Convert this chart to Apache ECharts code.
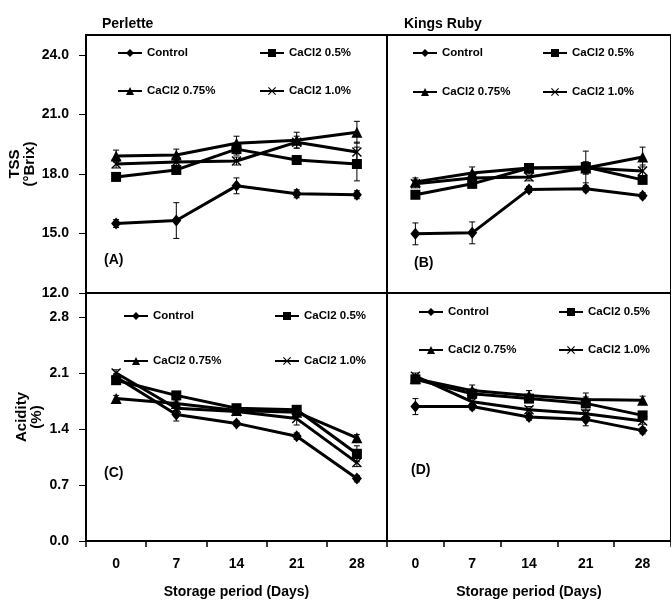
<!DOCTYPE html>
<html>
<head>
<meta charset="utf-8">
<script src="https://cdn.jsdelivr.net/npm/echarts@6/dist/echarts.min.js"></script>
<style>
  html, body { margin: 0; padding: 0; background: #fff; }
  #chart { width: 671px; height: 601px; }
</style>
</head>
<body>
<div id="chart"></div>
<script>
  // storage days (categories) and treatments
  const days = ['0', '7', '14', '21', '28'];
  const treatments = ['Control', 'CaCl2 0.5%', 'CaCl2 0.75%', 'CaCl2 1.0%'];

  // TSS (°Brix), Perlette - panel A
  const tssPerlette = [
    [15.5, 15.65, 17.4, 17.0, 16.95],
    [17.85, 18.2, 19.25, 18.7, 18.5],
    [18.9, 18.95, 19.55, 19.7, 20.1],
    [18.5, 18.6, 18.65, 19.6, 19.1]
  ];
  const tssPerletteErr = [
    [0.2, 0.9, 0.4, 0.2, 0.2],
    [0.2, 0.2, 0.3, 0.2, 0.85],
    [0.3, 0.3, 0.35, 0.4, 0.55],
    [0.2, 0.2, 0.2, 0.3, 0.5]
  ];

  // TSS (°Brix), Kings Ruby - panel B
  const tssKings = [
    [14.98, 15.03, 17.22, 17.25, 16.9],
    [16.95, 17.5, 18.3, 18.35, 17.7],
    [17.6, 18.05, 18.3, 18.3, 18.85],
    [17.5, 17.8, 17.85, 18.3, 18.15]
  ];
  const tssKingsErr = [
    [0.55, 0.55, 0.15, 0.15, 0.15],
    [0.15, 0.2, 0.2, 0.8, 0.2],
    [0.2, 0.3, 0.2, 0.3, 0.5],
    [0.2, 0.2, 0.2, 0.3, 0.3]
  ];

  // Acidity (%), Perlette - panel C
  const acidPerlette = [
    [2.05, 1.58, 1.47, 1.31, 0.78],
    [2.01, 1.82, 1.66, 1.64, 1.09],
    [1.78, 1.72, 1.63, 1.61, 1.29],
    [2.1, 1.66, 1.62, 1.53, 0.98]
  ];
  const acidPerletteErr = [
    [0.04, 0.08, 0.03, 0.04, 0.04],
    [0.05, 0.04, 0.04, 0.04, 0.1],
    [0.04, 0.03, 0.03, 0.03, 0.04],
    [0.04, 0.03, 0.03, 0.08, 0.05]
  ];

  // Acidity (%), Kings Ruby - panel D
  const acidKings = [
    [1.68, 1.68, 1.55, 1.52, 1.38],
    [2.02, 1.84, 1.78, 1.72, 1.57],
    [2.03, 1.88, 1.82, 1.77, 1.76],
    [2.06, 1.74, 1.64, 1.59, 1.5]
  ];
  const acidKingsErr = [
    [0.1, 0.04, 0.04, 0.08, 0.04],
    [0.05, 0.06, 0.05, 0.08, 0.04],
    [0.04, 0.07, 0.06, 0.08, 0.05],
    [0.04, 0.04, 0.04, 0.04, 0.04]
  ];

  const FONT = "'Liberation Sans Narrow', 'Liberation Sans', Arial, sans-serif";
  const crossPath = 'path://M0,1 L1,0 L5,4 L9,0 L10,1 L6,5 L10,9 L9,10 L5,6 L1,10 L0,9 L4,5 Z';
  const symbols = ['diamond', 'rect', 'triangle', crossPath];
  const symbolSizes = [[10, 12], 10, 11, 10];

  let chart = echarts.init(document.getElementById('chart'));

  // error bar: vertical line with small caps
  function errRender(params, api) {
    let top = api.coord([api.value(0), api.value(2)]);
    let bot = api.coord([api.value(0), api.value(1)]);
    let w = 3;
    let style = { stroke: '#000', lineWidth: 1 };
    return {
      type: 'group',
      children: [
        { type: 'line', shape: { x1: top[0], y1: top[1], x2: bot[0], y2: bot[1] }, style: style },
        { type: 'line', shape: { x1: top[0] - w, y1: top[1], x2: top[0] + w, y2: top[1] }, style: style },
        { type: 'line', shape: { x1: bot[0] - w, y1: bot[1], x2: bot[0] + w, y2: bot[1] }, style: style }
      ]
    };
  }

  function panelSeries(idx, means, errs) {
    let out = [];
    means.forEach(function (m, k) {
      out.push({
        type: 'custom',
        name: 'err',
        xAxisIndex: idx,
        yAxisIndex: idx,
        z: 1,
        silent: true,
        renderItem: errRender,
        encode: { x: 0, y: [1, 2] },
        data: m.map(function (v, i) { return [i, v - errs[k][i], v + errs[k][i]]; })
      });
      out.push({
        type: 'line',
        name: treatments[k],
        xAxisIndex: idx,
        yAxisIndex: idx,
        z: 3,
        data: m,
        symbol: symbols[k],
        symbolSize: symbolSizes[k],
        lineStyle: { color: '#000', width: 3 },
        itemStyle: { color: '#000' }
      });
    });
    return out;
  }

  // legend boxes: [col1 x, col2 x, row1 y, row2 y] per panel
  const legendPos = [
    [117, 259, 54, 92],
    [412, 542, 54, 93],
    [123, 274, 317, 362],
    [418, 558, 313, 351]
  ];
  let legends = [];
  legendPos.forEach(function (p) {
    treatments.forEach(function (t, k) {
      legends.push({
        data: [t],
        left: k % 2 === 0 ? p[0] : p[1],
        top: (k < 2 ? p[2] : p[3]) - 7,
        padding: 0,
        itemWidth: 24,
        itemHeight: 10,
        selectedMode: false,
        textStyle: { fontFamily: FONT, fontWeight: 'bold', fontSize: 11.5, color: '#000' }
      });
    });
  });

  const txt = { fontFamily: FONT, fontWeight: 'bold', fontSize: 14, color: '#000' };

  function xAxis(idx, showLabels) {
    return {
      type: 'category',
      gridIndex: idx,
      data: days,
      boundaryGap: true,
      axisLine: { lineStyle: { color: '#000', width: 2 } },
      axisTick: { show: showLabels, length: 6, lineStyle: { color: '#000', width: 1.5 } },
      axisLabel: { show: showLabels, margin: 16, fontFamily: FONT, fontWeight: 'bold', fontSize: 14, color: '#000' },
      name: showLabels ? 'Storage period (Days)' : '',
      nameLocation: 'middle',
      nameGap: 44,
      nameTextStyle: txt
    };
  }

  function yAxis(idx, min, max, interval, showLabels, name) {
    return {
      type: 'value',
      gridIndex: idx,
      min: min,
      max: max,
      interval: interval,
      splitLine: { show: false },
      axisLine: { show: true, lineStyle: { color: '#000', width: 2 } },
      axisTick: { show: showLabels, length: 7, lineStyle: { color: '#000', width: 1 } },
      axisLabel: {
        show: showLabels,
        showMaxLabel: false,
        margin: 17,
        fontFamily: FONT, fontWeight: 'bold', fontSize: 14, color: '#000',
        formatter: function (v) { return v.toFixed(1); }
      },
      name: name,
      nameLocation: 'middle',
      nameRotate: 90,
      nameGap: 42,
      nameTextStyle: { fontFamily: FONT, fontWeight: 'bold', fontSize: 15, color: '#000', lineHeight: 15 }
    };
  }

  const gridStyle = { show: true, borderColor: '#000', borderWidth: 2, containLabel: false };

  let option = {
    animation: false,
    backgroundColor: '#fff',
    title: [
      { text: 'Perlette', left: 97, top: 12, textStyle: txt },
      { text: 'Kings Ruby', left: 399, top: 12, textStyle: txt },
      { text: '(A)', left: 99, top: 248, textStyle: txt },
      { text: '(B)', left: 409, top: 251, textStyle: txt },
      { text: '(C)', left: 99, top: 461, textStyle: txt },
      { text: '(D)', left: 406, top: 458, textStyle: txt }
    ],
    legend: legends,
    grid: [
      Object.assign({ left: 86, top: 35, width: 301, height: 258 }, gridStyle),
      Object.assign({ left: 387, top: 35, width: 292.5, height: 258 }, gridStyle),
      Object.assign({ left: 86, top: 293, width: 301, height: 248 }, gridStyle),
      Object.assign({ left: 387, top: 293, width: 292.5, height: 248 }, gridStyle)
    ],
    xAxis: [xAxis(0, false), xAxis(1, false), xAxis(2, true), xAxis(3, true)],
    yAxis: [
      yAxis(0, 12, 25, 3, true, 'TSS\n(°Brix)'),
      yAxis(1, 12, 25, 3, false, ''),
      yAxis(2, 0, 3.1, 0.7, true, 'Acidity\n(%)'),
      yAxis(3, 0, 3.1, 0.7, false, '')
    ],
    series: [].concat(
      panelSeries(0, tssPerlette, tssPerletteErr),
      panelSeries(1, tssKings, tssKingsErr),
      panelSeries(2, acidPerlette, acidPerletteErr),
      panelSeries(3, acidKings, acidKingsErr)
    )
  };

  chart.setOption(option);
</script>
</body>
</html>
